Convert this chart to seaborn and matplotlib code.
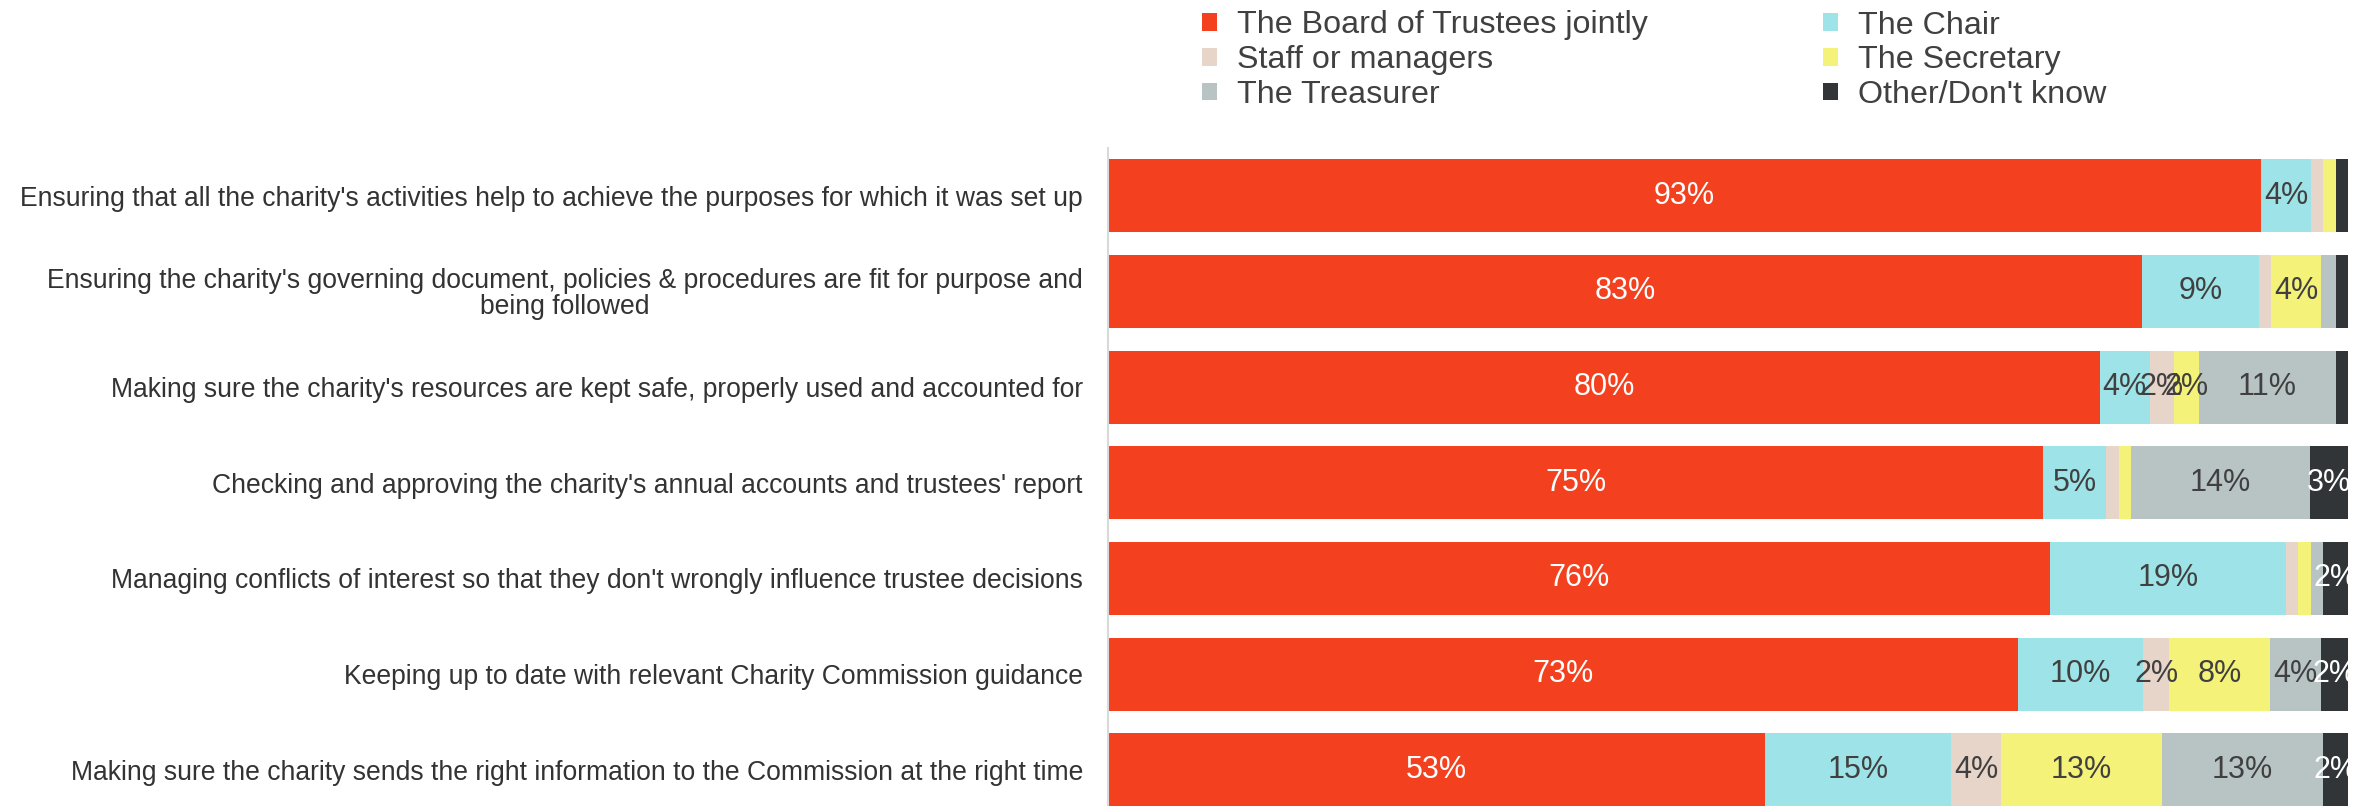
import numpy as np
import pandas as pd
import matplotlib
matplotlib.use("Agg")
import matplotlib.pyplot as plt
from matplotlib.patches import Patch
import seaborn as sns

categories = [
    "Ensuring that all the charity's activities help to achieve the purposes for which it was set up",
    "Ensuring the charity's governing document, policies & procedures are fit for purpose and\nbeing followed",
    "Making sure the charity's resources are kept safe, properly used and accounted for",
    "Checking and approving the charity's annual accounts and trustees' report",
    "Managing conflicts of interest so that they don't wrongly influence trustee decisions",
    "Keeping up to date with relevant Charity Commission guidance",
    "Making sure the charity sends the right information to the Commission at the right time",
]
series_names = ["The Board of Trustees jointly", "The Chair", "Staff or managers",
                "The Secretary", "The Treasurer", "Other/Don't know"]
board = [93.0, 83.4, 80.0, 75.4, 76.0, 73.4, 53.0]
chair = [4.0, 9.4, 4.0, 5.1, 19.0, 10.1, 15.0]
staff = [1.0, 1.0, 2.0, 1.0, 1.0, 2.1, 4.0]
secretary = [1.0, 4.0, 2.0, 1.0, 1.0, 8.1, 13.0]
treasurer = [0.0, 1.2, 11.0, 14.4, 1.0, 4.1, 13.0]
other = [1.0, 1.0, 1.0, 3.1, 2.0, 2.2, 2.0]

colors = ["#F3411F", "#9EE3E7", "#E8D5C9", "#F5F27A", "#B8C4C4", "#323537"]
label_colors = ["white", "#404040", "#404040", "#404040", "#404040", "white"]

sns.set_style("white")
plt.rcParams["font.family"] = ["Liberation Sans", "DejaVu Sans"]

W, H = 2364, 806
fig = plt.figure(figsize=(W / 100, H / 100), dpi=100)
ax = fig.add_axes([1108 / W, 0, 1240 / W, (H - 148) / H])

data = [board, chair, staff, secretary, treasurer, other]
df = pd.DataFrame({n: v for n, v in zip(series_names, data)})
df["cat"] = categories
cum = df[series_names].cumsum(axis=1)

for i in reversed(range(len(series_names))):
    sns.barplot(x=cum[series_names[i]], y=df["cat"], orient="h", color=colors[i],
                saturation=1, width=0.763, linewidth=0, ax=ax)

for i, name in enumerate(series_names):
    starts = cum[name] - df[name]
    for r in range(len(categories)):
        v = df[name].iloc[r]
        if v >= 1.5:
            ax.text(starts.iloc[r] + v / 2, r, f"{round(v):.0f}%", ha="center", va="center",
                    fontsize=22, color=label_colors[i])

ax.set_xlim(0, 100)
ax.set_ylim(6.38, -0.5)
ax.set_xlabel("")
ax.set_ylabel("")
ax.set_xticks([])
for s in ["top", "right", "bottom"]:
    ax.spines[s].set_visible(False)
ax.spines["left"].set_color("#D9D9D9")
ax.spines["left"].set_linewidth(1.5)
ax.tick_params(axis="y", length=0, pad=18, labelsize=19.1, labelcolor="#333333")
for t in ax.get_yticklabels():
    t.set_multialignment("center")
    t.set_linespacing(1.0)

order = [0, 2, 4, 1, 3, 5]
handles = [Patch(facecolor=colors[i], edgecolor="none") for i in order]
labels = [series_names[i] for i in order]
fig.legend(handles, labels, ncol=2, loc="upper left", bbox_to_anchor=(1202 / W, 1 - 10.5 / H),
           frameon=False, fontsize=23.2, borderpad=0, borderaxespad=0, handlelength=0.46,
           handleheight=0.46, handletextpad=0.62, labelspacing=0.15, columnspacing=5.45,
           labelcolor="#404040")

fig.savefig("out.png", dpi=100)
